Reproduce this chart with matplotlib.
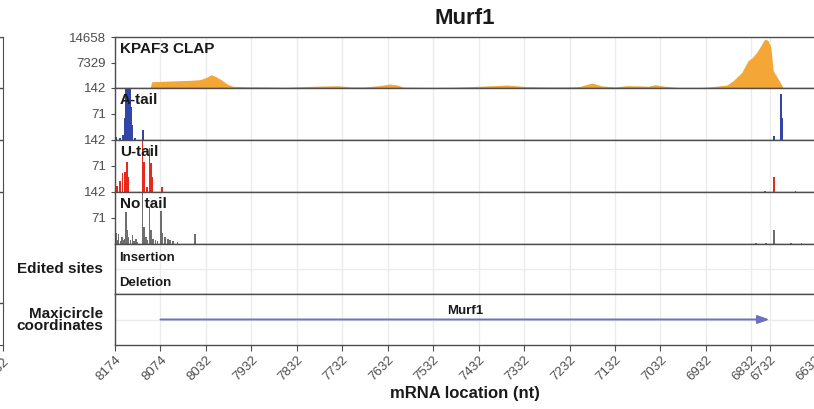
import matplotlib
matplotlib.use("Agg")
import matplotlib.pyplot as plt

plt.rcParams["font.family"] = ["Liberation Sans", "DejaVu Sans"]

W, H = 814, 409

# x축: mRNA 위치(nt), 라벨은 maxicircle 좌표
xtick_pos = [0, 100, 200, 300, 400, 500, 600, 700, 800, 900, 1000, 1100, 1200,
             1300, 1400, 1440, 1540]
xtick_lab = ["8174", "8074", "8032", "7932", "7832", "7732", "7632", "7532",
             "7432", "7332", "7232", "7132", "7032", "6932", "6832", "6732", "6632"]

# KPAF3 CLAP coverage
clap_pos = [0, 77, 81, 121, 165, 187, 200, 211, 220, 231, 249, 260, 297, 334,
            374, 407, 451, 488, 521, 550, 583, 605, 623, 634, 693, 744, 803,
            862, 906, 957, 1001, 1023, 1049, 1071, 1100, 1126, 1155, 1173,
            1188, 1210, 1243, 1287, 1309, 1346, 1360, 1379, 1393, 1401, 1412,
            1423, 1428, 1432, 1437, 1443, 1448, 1459, 1470, 1540]
clap_val = [0, 0, 1800, 2000, 2200, 2400, 3000, 3800, 3400, 2600, 960, 480,
            350, 290, 200, 350, 550, 660, 300, 300, 700, 1150, 800, 250, 150,
            200, 500, 860, 400, 290, 300, 450, 1440, 600, 300, 660, 600, 500,
            960, 500, 100, 150, 300, 860, 2100, 4500, 7900, 8600, 10300,
            12600, 13800, 14000, 13600, 11700, 5000, 2600, 0, 0]

# A-tail reads
a_pos = [2, 11, 18, 22, 24, 26, 28, 30, 32, 34, 36, 38, 44, 62,
         1450, 1465, 1467]
a_val = [8, 5, 14, 60, 300, 300, 120, 150, 300, 300, 90, 40, 5, 27,
         11, 125, 60]

# U-tail reads
u_pos = [4, 11, 17, 22, 26, 29, 61, 64, 70, 76, 79, 83, 103, 1430, 1450, 1497]
u_val = [17, 30, 51, 55, 83, 40, 140, 82, 15, 120, 78, 42, 13, 2, 42, 2]

# No tail reads
n_pos = [2, 5, 8, 12, 15, 18, 22, 24, 26, 29, 34, 38, 42, 46, 50, 61, 64, 68,
         72, 76, 79, 84, 89, 93, 101, 104, 110, 117, 121, 128, 137, 176,
         1410, 1432, 1450, 1487, 1510]
n_val = [30, 12, 28, 8, 18, 10, 15, 88, 38, 20, 12, 25, 9, 14, 6, 138, 47,
         20, 10, 100, 38, 15, 10, 8, 90, 29, 20, 15, 11, 9, 6, 27,
         2, 2, 38, 2, 2]

# Murf1 유전자 구간(mRNA nt)
gene_name = "Murf1"
gene_start, gene_end = 100, 1440

edge = "#4d4d4d"
grid = "#ebebeb"
txt = "#4d4d4d"
dark = "#1a1a1a"

fig = plt.figure(figsize=(W / 100, H / 100), dpi=100)

bounds = [37, 88, 140, 192, 244, 294, 345]
x0, x1 = 115, 815


def box(i):
    top, bot = bounds[i], bounds[i + 1]
    return [x0 / W, 1 - bot / H, (x1 - x0) / W, (bot - top) / H]


def panel_label(ax, s, size=11):
    # 패널 왼쪽 위 라벨(픽셀 오프셋)
    ax.annotate(s, xy=(0, 1), xycoords="axes fraction", xytext=(3.6, -3.3),
                textcoords="offset points", fontsize=size, fontweight="bold",
                ha="left", va="top", color=dark)


axes = []
for i in range(6):
    ax = fig.add_axes(box(i))
    ax.set_xlim(0, 1540)
    ax.set_xticks(xtick_pos)
    ax.grid(axis="x", color=grid, lw=1)
    ax.set_axisbelow(True)
    for s in ax.spines.values():
        s.set_color(edge)
        s.set_linewidth(1.0)
    ax.spines["right"].set_visible(False)
    ax.tick_params(axis="both", colors=edge, labelcolor=txt, labelsize=9.5,
                   length=3, width=0.8)
    if i < 5:
        ax.tick_params(axis="x", length=0, labelbottom=False)
    axes.append(ax)

# KPAF3 CLAP
ax = axes[0]
ax.fill_between(clap_pos, clap_val, color="#f4a736", lw=0)
ax.set_ylim(0, 14658)
ax.set_yticks([7329, 14658])
panel_label(ax, "KPAF3 CLAP")

tracks = [(a_pos, a_val, "#3445a8", "A-tail"),
          (u_pos, u_val, "#e8281c", "U-tail"),
          (n_pos, n_val, "#6e6e6e", "No tail")]
for ax, (p, v, c, lab) in zip(axes[1:4], tracks):
    ax.bar(p, v, width=3.3, color=c, lw=0)
    ax.set_ylim(0, 142)
    ax.set_yticks([71, 142])
    panel_label(ax, lab)

# Edited sites
ax = axes[4]
ax.set_ylim(0, 2)
ax.set_yticks([1])
ax.set_yticklabels([])
ax.tick_params(axis="y", length=0)
ax.grid(axis="y", color=grid, lw=1)
ax.text(8, 1.45, "Insertion", fontsize=9.5, fontweight="bold", va="center",
        color=dark)
ax.text(8, 0.45, "Deletion", fontsize=9.5, fontweight="bold", va="center",
        color=dark)
fig.text(103 / W, 1 - 269 / H, "Edited sites", fontsize=11, fontweight="bold",
         ha="right", va="center", color=dark)

# Maxicircle coordinates
ax = axes[5]
ax.set_ylim(0, 2)
ax.set_yticks([1])
ax.set_yticklabels([])
ax.tick_params(axis="y", length=0)
ax.grid(axis="y", color=grid, lw=1)
ax.annotate("", xy=(gene_end, 1), xytext=(gene_start, 1),
            arrowprops=dict(arrowstyle="-|>,head_length=0.7,head_width=0.25",
                            color="#6f6fbf", lw=1.4, shrinkA=0, shrinkB=0))
ax.text((gene_start + gene_end) / 2, 1.1, gene_name, fontsize=9.5,
        fontweight="bold", ha="center", va="bottom", color=dark)
fig.text(103 / W, 1 - 320 / H, "Maxicircle\ncoordinates", fontsize=11,
         fontweight="bold", ha="right", va="center", color=dark,
         linespacing=0.85, multialignment="right")

ax.set_xticklabels(xtick_lab, rotation=45, ha="right", rotation_mode="anchor")
ax.tick_params(axis="x", length=4, pad=2)
ax.set_xlabel("mRNA location (nt)", fontsize=12, fontweight="bold",
              color=dark, labelpad=2)

fig.text(465 / W, 1 - 18 / H, "Murf1", fontsize=16, fontweight="bold",
         ha="center", va="center", color=dark)

# 왼쪽 가장자리에 잘린 이웃 패널
lax = fig.add_axes([-200 / W, 1 - 345 / H, 203 / W, 308 / H])
lax.set_xlim(0, 1)
lax.set_ylim(345, 37)
for y in [37, 88, 140, 192, 303]:
    lax.axhline(y, color=edge, lw=1)
for s in lax.spines.values():
    s.set_color(edge)
lax.set_yticks([])
lax.set_xticks([1])
lax.set_xticklabels(["6632"], rotation=45, ha="right", rotation_mode="anchor",
                    fontsize=9.5, color=txt)
lax.tick_params(axis="x", length=4, colors=edge, labelcolor=txt)

fig.savefig("out.png", dpi=100)
